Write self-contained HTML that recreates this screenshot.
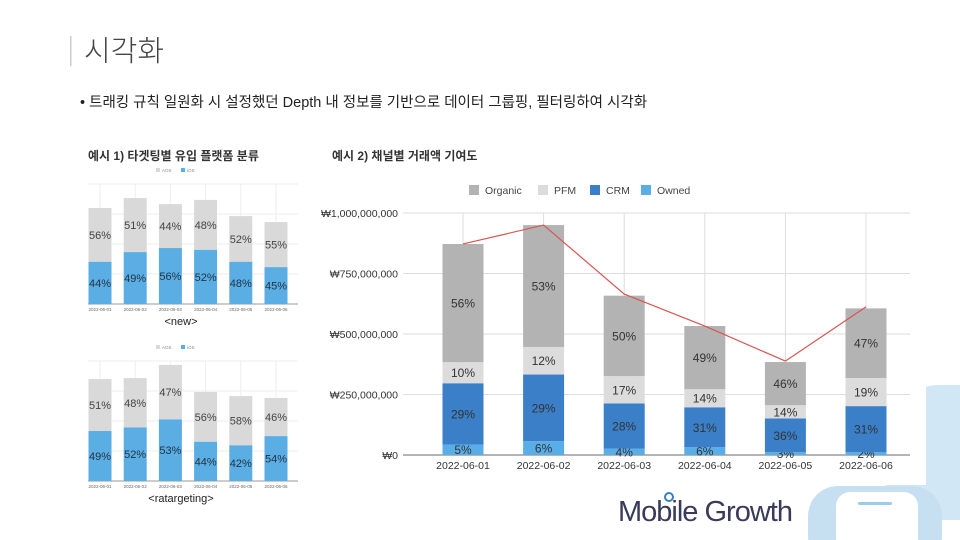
<!DOCTYPE html>
<html><head><meta charset="utf-8">
<style>
body{margin:0;width:960px;height:540px;overflow:hidden;background:#fff;font-family:"Liberation Sans","Noto Sans CJK KR",sans-serif;position:relative}
svg{position:absolute;left:0;top:0}
</style></head>
<body>
<svg id="s" width="960" height="540" viewBox="0 0 960 540">
  <rect x="880" y="385" width="160" height="135" rx="60" fill="#d2e7f5"/>
  <rect x="808" y="486" width="134" height="80" rx="30" fill="#c6e0f2"/>
  <rect x="836" y="492" width="82" height="60" rx="14" fill="#fff"/>
  <rect x="858" y="502" width="34" height="3" rx="1.5" fill="#9ccbea"/>
  <rect x="320" y="170" width="606" height="315" fill="#fff"/>

  <rect x="70" y="36" width="1.5" height="30" fill="#ccc"/>
  <text x="84" y="61" font-size="29" fill="#444" font-weight="300">시각화</text>
  <text x="80" y="107" font-size="14.5" fill="#222">• 트래킹 규칙 일원화 시 설정했던 Depth 내 정보를 기반으로 데이터 그룹핑, 필터링하여 시각화</text>

  <text x="88" y="160" font-size="12" font-weight="bold" fill="#333">예시 1) 타겟팅별 유입 플랫폼 분류</text>
  <text x="332" y="160" font-size="12" font-weight="bold" fill="#333">예시 2) 채널별 거래액 기여도</text>
  <text x="181" y="325" font-size="11" fill="#222" text-anchor="middle">&lt;new&gt;</text>
  <text x="181" y="502" font-size="11" fill="#222" text-anchor="middle">&lt;ratargeting&gt;</text>
  <text x="618" y="521" font-size="29" fill="#3a3a5a" letter-spacing="-1">Mobile Growth</text>
  <circle cx="669" cy="497" r="4" fill="none" stroke="#3a7fc1" stroke-width="2"/>
  <g id="g"></g>
</svg>
<script>
const dates = ["2022-06-01","2022-06-02","2022-06-03","2022-06-04","2022-06-05","2022-06-06"];
const totals = [872000000, 950000000, 665000000, 533000000, 388000000, 612000000];
const ownedPct = [5, 6, 4, 6, 3, 2];
const crmPct = [29, 29, 28, 31, 36, 31];
const pfmPct = [10, 12, 17, 14, 14, 19];
const organicPct = [56, 53, 50, 49, 46, 47];
const yTicks = [0, 250000000, 500000000, 750000000, 1000000000];
const yTickLabels = ["₩0","₩250,000,000","₩500,000,000","₩750,000,000","₩1,000,000,000"];
const newTotals = [3.2, 3.53, 3.33, 3.47, 2.93, 2.73];
const newIos = [44, 49, 56, 52, 48, 45];
const newAos = [56, 51, 44, 48, 52, 55];
const reTotals = [3.4, 3.43, 3.87, 2.97, 2.83, 2.77];
const reIos = [49, 52, 53, 44, 42, 54];
const reAos = [51, 48, 47, 56, 58, 46];

const NS="http://www.w3.org/2000/svg";
const g=document.getElementById('g');
function mk(tag,attrs,parent){const e=document.createElementNS(NS,tag);for(const k in attrs)e.setAttribute(k,attrs[k]);(parent||g).appendChild(e);return e;}
function txt(x,y,s,attrs,parent){const e=mk('text',Object.assign({x:x,y:y},attrs),parent);e.textContent=s;return e;}

const AX0=403,AX1=910,CX0=422.7,CX1=906.3,Y0=455,Y1=213,MAXV=1000000000;
const y=v=>Y0-(v/MAXV)*(Y0-Y1);
const step=(CX1-CX0)/dates.length;
const x=i=>CX0+step*(i+0.5);
yTicks.forEach((t,i)=>{
  const l=mk('line',{x1:AX0,x2:AX1,y1:y(t),y2:y(t),stroke:i===0?'#888':'#ddd','stroke-width':i===0?1.2:1});
  
  
  const tl=txt(AX0-5,y(t)+4,yTickLabels[i],{'font-size':10.5,fill:'#333','text-anchor':'end'});
  
  
});
dates.forEach((d,i)=>{
  const l=mk('line',{x1:x(i),x2:x(i),y1:Y1,y2:Y0,stroke:'#ddd'});
  
  
});
const series=[[ownedPct,'#5aaee8','owned'],[crmPct,'#3a7fc8','crm'],[pfmPct,'#dcdcdc','pfm'],[organicPct,'#b3b3b3','organic']];
const bw=41;
dates.forEach((d,i)=>{
  let acc=0;
  series.forEach(([arr,col,nm])=>{
    const v=totals[i]*arr[i]/100;
    const r=mk('rect',{x:x(i)-bw/2,y:y(acc+v),width:bw,height:y(acc)-y(acc+v),fill:col});
    
    
    const t=txt(x(i),(y(acc)+y(acc+v))/2+4.5,arr[i]+'%',{'font-size':12,fill:'#333','text-anchor':'middle'});
    
    
    acc+=v;
  });
  const xl=txt(x(i),469,d,{'font-size':10.5,fill:'#333','text-anchor':'middle'});
  
  
});
const pl=mk('polyline',{points:totals.map((v,i)=>x(i)+','+y(v)).join(' '),fill:'none',stroke:'#d9534f','stroke-width':1.2});


const leg=[['Organic','#b3b3b3',469],['PFM','#dcdcdc',538],['CRM','#3a7fc8',590],['Owned','#5aaee8',641]];
leg.forEach(([n,c,lx])=>{
  const r=mk('rect',{x:lx,y:185,width:10,height:10,fill:c});
  
  
  const t=txt(lx+16,194,n,{'font-size':10.5,fill:'#444'});
  
  
});

function small(base,tot,ios,aos,name){
  const L=88,R=298,unit=30;
  const sx=i=>100+i*35.2;
  const sy=v=>base-v*unit;
  for(let k=0;k<=4;k++){
    const l=mk('line',{x1:L,x2:R,y1:sy(k),y2:sy(k),stroke:k===0?'#999':'#eee'});
    
    
  }
  tot.forEach((v,i)=>{
    const vl=mk('line',{x1:sx(i),x2:sx(i),y1:sy(4),y2:base,stroke:'#eee'});
    
    
  });
  tot.forEach((v,i)=>{
    const iv=v*ios[i]/100;
    const a=mk('rect',{x:sx(i)-11.5,y:sy(v),width:23,height:sy(iv)-sy(v),fill:'#d9d9d9'});
    
    
    const b=mk('rect',{x:sx(i)-11.5,y:sy(iv),width:23,height:base-sy(iv),fill:'#5aaee3'});
    
    
    const t1=txt(sx(i),(sy(v)+sy(iv))/2+4,aos[i]+'%',{'font-size':11,fill:'#444','text-anchor':'middle'});
    
    
    const t2=txt(sx(i),(sy(iv)+base)/2+4,ios[i]+'%',{'font-size':11,fill:'#234','text-anchor':'middle'});
    
    
    const xl=txt(sx(i),base+7,dates[i],{'font-size':4.5,fill:'#666','text-anchor':'middle'});
    
    
  });
  const ly=sy(4)-13;
  [['AOS','#d9d9d9',156],['iOS','#5aaee3',181]].forEach(([n,c,lx])=>{
    const r=mk('rect',{x:lx,y:ly-3,width:4,height:4,fill:c});
    
    
    const t=txt(lx+6,ly+1,n,{'font-size':4.5,fill:'#888'});
    
    
  });
}
small(304,newTotals,newIos,newAos,'new');
small(481,reTotals,reIos,reAos,'retargeting');
</script>
</body></html>
